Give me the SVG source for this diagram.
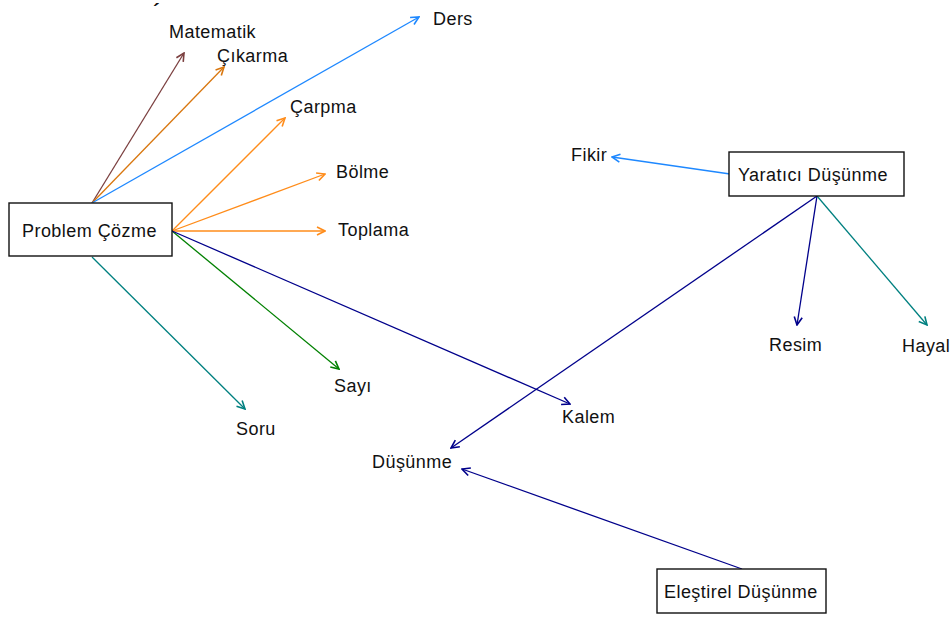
<svg xmlns="http://www.w3.org/2000/svg" width="950" height="619" viewBox="0 0 950 619">
  <style>
    text { font-family: "Liberation Sans", Arial, sans-serif; font-size: 18px; letter-spacing: 0.45px; fill: #111; }
    .box { fill: #fff; stroke: #111; stroke-width: 1.4; }
    .edge { fill: none; stroke-width: 1.3; }
  </style>
  <defs>
    <marker id="m-brown" viewBox="0 0 10 10" refX="9" refY="5" markerWidth="10" markerHeight="10" markerUnits="userSpaceOnUse" orient="auto"><path d="M1,1 L9,5 L1,9" fill="none" stroke="#7b3f3f" stroke-width="1.6"/></marker>
    <marker id="m-dorange" viewBox="0 0 10 10" refX="9" refY="5" markerWidth="10" markerHeight="10" markerUnits="userSpaceOnUse" orient="auto"><path d="M1,1 L9,5 L1,9" fill="none" stroke="#d9770f" stroke-width="1.6"/></marker>
    <marker id="m-orange" viewBox="0 0 10 10" refX="9" refY="5" markerWidth="10" markerHeight="10" markerUnits="userSpaceOnUse" orient="auto"><path d="M1,1 L9,5 L1,9" fill="none" stroke="#ff8c1a" stroke-width="1.6"/></marker>
    <marker id="m-blue" viewBox="0 0 10 10" refX="9" refY="5" markerWidth="10" markerHeight="10" markerUnits="userSpaceOnUse" orient="auto"><path d="M1,1 L9,5 L1,9" fill="none" stroke="#1e88ff" stroke-width="1.6"/></marker>
    <marker id="m-green" viewBox="0 0 10 10" refX="9" refY="5" markerWidth="10" markerHeight="10" markerUnits="userSpaceOnUse" orient="auto"><path d="M1,1 L9,5 L1,9" fill="none" stroke="#008000" stroke-width="1.6"/></marker>
    <marker id="m-navy" viewBox="0 0 10 10" refX="9" refY="5" markerWidth="10" markerHeight="10" markerUnits="userSpaceOnUse" orient="auto"><path d="M1,1 L9,5 L1,9" fill="none" stroke="#00008b" stroke-width="1.6"/></marker>
    <marker id="m-teal" viewBox="0 0 10 10" refX="9" refY="5" markerWidth="10" markerHeight="10" markerUnits="userSpaceOnUse" orient="auto"><path d="M1,1 L9,5 L1,9" fill="none" stroke="#008080" stroke-width="1.6"/></marker>
  </defs>

  <rect width="950" height="619" fill="#fff"/>

  <!-- connectors -->
  <g id="connectors">
    <line class="edge" x1="92" y1="203" x2="184" y2="53" stroke="#7b3f3f" marker-end="url(#m-brown)"/>
    <line class="edge" x1="92" y1="203" x2="224" y2="67" stroke="#d9770f" marker-end="url(#m-dorange)"/>
    <line class="edge" x1="92" y1="203" x2="419" y2="17" stroke="#1e88ff" marker-end="url(#m-blue)"/>
    <line class="edge" x1="172" y1="231" x2="285" y2="118" stroke="#ff8c1a" marker-end="url(#m-orange)"/>
    <line class="edge" x1="172" y1="231" x2="325" y2="174" stroke="#ff8c1a" marker-end="url(#m-orange)"/>
    <line class="edge" x1="172" y1="231" x2="325" y2="231" stroke="#ff8c1a" marker-end="url(#m-orange)"/>
    <line class="edge" x1="172" y1="231" x2="339" y2="369" stroke="#008000" marker-end="url(#m-green)"/>
    <line class="edge" x1="172" y1="231" x2="570" y2="404" stroke="#00008b" marker-end="url(#m-navy)"/>
    <line class="edge" x1="92" y1="257" x2="245" y2="409" stroke="#008080" marker-end="url(#m-teal)"/>
    <line class="edge" x1="730" y1="174" x2="612" y2="157" stroke="#1e88ff" marker-end="url(#m-blue)"/>
    <line class="edge" x1="817" y1="196" x2="797" y2="325" stroke="#00008b" marker-end="url(#m-navy)"/>
    <line class="edge" x1="817" y1="196" x2="927" y2="325" stroke="#008080" marker-end="url(#m-teal)"/>
    <line class="edge" x1="817" y1="196" x2="451" y2="448" stroke="#00008b" marker-end="url(#m-navy)"/>
    <line class="edge" x1="742" y1="569" x2="462" y2="469" stroke="#00008b" marker-end="url(#m-navy)"/>
  </g>

  <!-- boxed nodes -->
  <g id="problem-cozme">
    <rect class="box" x="9" y="203" width="163" height="53"/>
    <text x="22" y="237">Problem Çözme</text>
  </g>
  <g id="yaratici-dusunme">
    <rect class="box" x="729" y="152" width="175" height="44"/>
    <text x="738" y="181">Yaratıcı Düşünme</text>
  </g>
  <g id="elestirel-dusunme">
    <rect class="box" x="657" y="569" width="169" height="44"/>
    <text x="664" y="598">Eleştirel Düşünme</text>
  </g>

  <!-- plain label nodes -->
  <g id="accent"><text x="153" y="18" style="font-size:20px;font-weight:bold">´</text></g>
  <g id="matematik"><text x="169" y="38">Matematik</text></g>
  <g id="cikarma"><text x="217" y="62">Çıkarma</text></g>
  <g id="ders"><text x="433" y="25">Ders</text></g>
  <g id="carpma"><text x="290" y="113">Çarpma</text></g>
  <g id="bolme"><text x="336" y="178">Bölme</text></g>
  <g id="toplama"><text x="338" y="236">Toplama</text></g>
  <g id="sayi"><text x="334" y="392">Sayı</text></g>
  <g id="soru"><text x="236" y="435">Soru</text></g>
  <g id="kalem"><text x="562" y="423">Kalem</text></g>
  <g id="dusunme"><text x="372" y="468">Düşünme</text></g>
  <g id="fikir"><text x="571" y="161">Fikir</text></g>
  <g id="resim"><text x="769" y="351">Resim</text></g>
  <g id="hayal"><text x="902" y="352">Hayal</text></g>
</svg>
